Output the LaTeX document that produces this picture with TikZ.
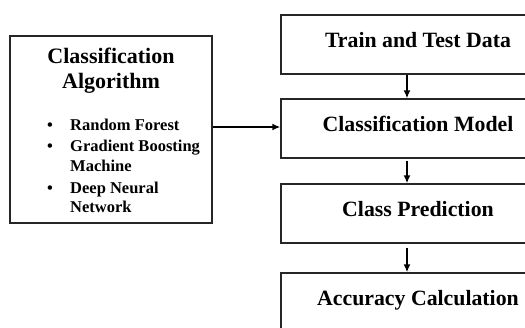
\documentclass[tikz,border=0pt]{standalone}
\usepackage{fontspec}
\setmainfont{Liberation Serif}
\usetikzlibrary{arrows.meta}

\tikzset{
  boxline/.style={draw=black!85, line width=1.4pt},
  stagebox/.style={boxline, rectangle, inner sep=0pt, minimum width=274pt, minimum height=59pt,
    font=\fontsize{21.8}{25}\selectfont\bfseries, text height=10pt, text depth=5pt},
  algbox/.style={boxline, rectangle, inner sep=0pt, minimum width=202pt, minimum height=187pt},
  titletext/.style={anchor=base, inner sep=0pt, font=\fontsize{22}{25}\selectfont\bfseries},
  itemtext/.style={anchor=base west, inner sep=0pt, font=\fontsize{16.5}{20}\selectfont\bfseries},
  bullettext/.style={anchor=base, inner sep=0pt, font=\fontsize{16.5}{20}\selectfont\bfseries},
  arr/.style={draw=black, line width=1.5pt, -{Latex[length=8pt,width=7pt]}}
}

\begin{document}
\begin{tikzpicture}[x=1pt, y=-1pt]
  \useasboundingbox (0,0) rectangle (525,327);
  \clip (0,0) rectangle (525,327);

  % pipeline stages on the right
  \node[stagebox] (tt) at (418,44.5) {Train and Test Data};
  \node[stagebox] (cm) at (418,128.5) {Classification Model};
  \node[stagebox] (cp) at (418,213.5) {Class Prediction};
  \node[stagebox] (ac) at (418,302.5) {Accuracy Calculation};

  % algorithm box on the left
  \node[algbox] (alg) at (111,129.5) {};
  \node[titletext] (t1) at (111,63) {Classification};
  \node[titletext] (t2) at (111,88) {Algorithm};

  \node[bullettext] (b1) at (50,130) {\textbullet};
  \node[itemtext] (i1) at (70,130) {Random Forest};
  \node[bullettext] (b2) at (50,151) {\textbullet};
  \node[itemtext] (i2) at (70,151) {Gradient Boosting};
  \node[itemtext] (i2b) at (70,171) {Machine};
  \node[bullettext] (b3) at (50,193) {\textbullet};
  \node[itemtext] (i3) at (70,193) {Deep Neural};
  \node[itemtext] (i3b) at (70,212) {Network};

  % connectors
  \coordinate (ax) at (407,0);
  \draw[arr] (tt.south -| ax) -- (cm.north -| ax);
  \draw[arr, shorten <=2pt] (cm.south -| ax) -- (cp.north -| ax);
  \draw[arr, shorten <=4pt] (cp.south -| ax) -- (ac.north -| ax);
  \draw[arr] ([yshift=2.5pt]alg.east) -- ([yshift=2.5pt]alg.east -| cm.west);
\end{tikzpicture}
\end{document}
